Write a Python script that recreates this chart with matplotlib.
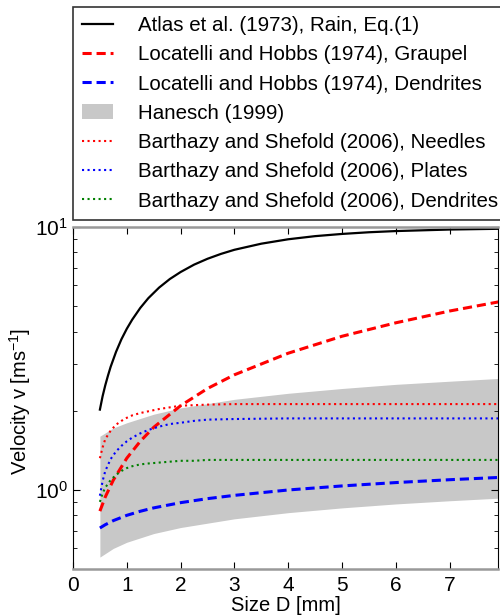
import matplotlib
matplotlib.use('Agg')
import matplotlib.pyplot as plt

plt.rcParams['font.family'] = ['Liberation Sans', 'DejaVu Sans']
plt.rcParams['mathtext.fontset'] = 'custom'
plt.rcParams['mathtext.rm'] = 'Liberation Sans'
plt.rcParams['mathtext.it'] = 'Liberation Sans:italic'

# sizes D [mm] and fall velocities [m/s]
d_atlas = [0.5, 0.55, 0.6, 0.65, 0.7, 0.8, 0.9, 1.0, 1.1, 1.25, 1.4, 1.6, 1.8, 2.0,
           2.25, 2.5, 2.75, 3.0, 3.5, 4.0, 4.5, 5.0, 5.5, 6.0, 7.0, 8.0]
v_atlas = [2.02, 2.27, 2.50, 2.72, 2.94, 3.35, 3.74, 4.10, 4.44, 4.92, 5.36, 5.88, 6.34, 6.74,
           7.19, 7.57, 7.90, 8.19, 8.64, 8.98, 9.23, 9.41, 9.55, 9.65, 9.78, 9.85]

d_lh = [0.5, 0.6, 0.75, 1.0, 1.25, 1.5, 2.0, 2.5, 3.0, 4.0, 5.0, 6.0, 7.0, 8.0]
v_graupel = [0.83, 0.94, 1.09, 1.32, 1.53, 1.73, 2.09, 2.43, 2.74, 3.31, 3.84, 4.32, 4.79, 5.23]
v_lh_dendrites = [0.716, 0.737, 0.764, 0.8, 0.829, 0.854, 0.894, 0.926, 0.953, 0.999, 1.035,
                  1.066, 1.093, 1.117]

d_hanesch = [0.5, 0.75, 1.0, 1.5, 2.0, 3.0, 4.0, 5.0, 6.0, 7.0, 8.0]
v_hanesch_hi = [1.6, 1.72, 1.80, 1.94, 2.05, 2.21, 2.33, 2.43, 2.52, 2.59, 2.66]
v_hanesch_lo = [0.555, 0.599, 0.632, 0.682, 0.719, 0.776, 0.819, 0.854, 0.884, 0.909, 0.932]

d_bs = [0.5, 0.55, 0.6, 0.7, 0.8, 0.9, 1.0, 1.1, 1.25, 1.4, 1.6, 1.8, 2.0, 2.25, 2.5, 3.0, 4.0, 6.0, 8.0]
v_needles = [1.32, 1.45, 1.56, 1.68, 1.77, 1.83, 1.88, 1.92, 1.96, 1.99, 2.03, 2.06, 2.09, 2.10,
             2.11, 2.12, 2.12, 2.12, 2.12]
v_plates = [0.95, 1.08, 1.18, 1.31, 1.40, 1.47, 1.53, 1.58, 1.64, 1.69, 1.74, 1.78, 1.80, 1.83,
            1.85, 1.86, 1.87, 1.87, 1.87]
v_bs_dendrites = [0.9, 0.97, 1.02, 1.09, 1.14, 1.18, 1.21, 1.23, 1.25, 1.26, 1.27, 1.28, 1.29, 1.29,
                  1.30, 1.30, 1.30, 1.30, 1.30]

labels = ['Atlas et al. (1973), Rain, Eq.(1)',
          'Locatelli and Hobbs (1974), Graupel',
          'Locatelli and Hobbs (1974), Dendrites',
          'Hanesch (1999)',
          'Barthazy and Shefold (2006), Needles',
          'Barthazy and Shefold (2006), Plates',
          'Barthazy and Shefold (2006), Dendrites']

fig = plt.figure(figsize=(5, 6.16), dpi=100)
ax = fig.add_axes([0.146, 0.0763, 0.85, 0.5552])

dash = (0, (3, 1.6))
h1, = ax.plot(d_atlas, v_atlas, 'k-', lw=1.6)
h2, = ax.plot(d_lh, v_graupel, color='red', ls=dash, lw=2.2)
h3, = ax.plot(d_lh, v_lh_dendrites, color='blue', ls=dash, lw=2.2)
h4 = ax.fill_between(d_hanesch, v_hanesch_lo, v_hanesch_hi, color='#c8c8c8', lw=0, zorder=0)
h5, = ax.plot(d_bs, v_needles, color='red', ls=':', lw=1.5)
h6, = ax.plot(d_bs, v_plates, color='blue', ls=':', lw=1.5)
h7, = ax.plot(d_bs, v_bs_dendrites, color='green', ls=':', lw=1.5)

ax.set_yscale('log')
ax.set_xlim(0, 7.9)
ax.set_ylim(0.5, 10)
ax.set_xticks(range(0, 8))
ax.tick_params(which='both', direction='in', top=True, right=True, labelsize=15)
ax.tick_params(which='major', length=5)
ax.tick_params(which='minor', length=3)
ax.tick_params(axis='x', pad=5)
for s in ['top', 'bottom']:
    ax.spines[s].set_color('#999999')
    ax.spines[s].set_linewidth(1.8)

ax.set_xlabel('Size D [mm]', fontsize=14.5, labelpad=1)
ax.set_ylabel('Velocity v [ms$^{-1}$]', fontsize=14.5)
ax.yaxis.set_label_coords(-0.094, 0.49)

leg = fig.legend([h1, h2, h3, h4, h5, h6, h7], labels,
                 loc='upper left', bbox_to_anchor=(0.146, 0.989),
                 fontsize=14.8, frameon=True, fancybox=False,
                 handlelength=1.5, handletextpad=1.2, labelspacing=0.5,
                 borderaxespad=0, borderpad=0.45)
leg.get_frame().set_edgecolor('black')
leg.get_frame().set_linewidth(1.2)

plt.savefig('out.png', dpi=100)
